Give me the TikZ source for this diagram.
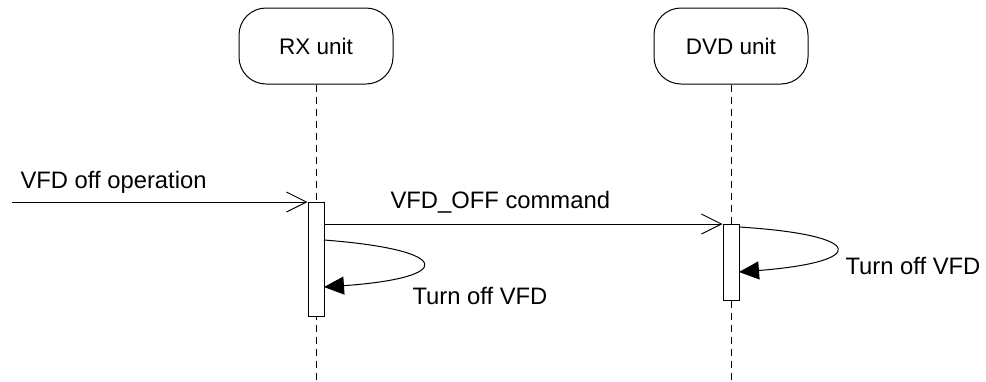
\documentclass[tikz,border=0pt]{standalone}
\usepackage{fontspec}
\setmainfont{Liberation Sans}
\usetikzlibrary{arrows.meta}
\begin{document}
\begin{tikzpicture}[x=1pt,y=-1pt,line width=1pt,
  unitbox/.style={draw,rounded corners=27pt,minimum width=154pt,minimum height=76pt,inner sep=0pt,font=\fontsize{22.5}{26}\selectfont},
  actbar/.style={draw,fill=white,minimum width=16pt,inner sep=0pt},
  lifeline/.style={dash pattern=on 7pt off 5pt},
  msg/.style={-{Straight Barb[length=20pt,width=20pt,line width=1pt]}},
  selfmsg/.style={-{Triangle[length=20pt,width=18pt]}},
  lbl/.style={inner sep=0pt,anchor=base west,font=\fontsize{23.8}{28}\selectfont}]
\useasboundingbox (0,0) rectangle (986,381);
\node[unitbox] (rx) at (316,46) {RX unit};
\node[unitbox] (dvd) at (731,46) {DVD unit};
\coordinate (rxend) at (316,381);
\coordinate (dvdend) at (731,381);
\draw[lifeline] (rx.south) -- (rxend);
\draw[lifeline] (dvd.south) -- (dvdend);
\node[actbar,minimum height=114pt,anchor=north] (rxact) at (316,202) {};
\node[actbar,minimum height=76pt,anchor=north] (dvdact) at (731,224) {};
\coordinate (src) at (12,202);
\draw[msg] (src) -- (rxact.north west);
\draw[msg] (rxact.east |- dvdact.north west) -- (dvdact.north west);
\coordinate (rxs1) at (324,240);
\coordinate (rxs2) at (324,287);
\draw[selfmsg] (rxs1) .. controls (455,250) and (455,278) .. (rxs2);
\coordinate (dvs1) at (739,227);
\coordinate (dvs2) at (739,272);
\draw[selfmsg] (dvs1) .. controls (868,235) and (868,262) .. (dvs2);
\node[lbl] (l1) at (20,188) {VFD off operation};
\node[lbl] (l2) at (390,208) {VFD\_OFF command};
\node[lbl] (l3) at (412,304) {Turn off VFD};
\node[lbl] (l4) at (845,274) {Turn off VFD};
\end{tikzpicture}
\end{document}
